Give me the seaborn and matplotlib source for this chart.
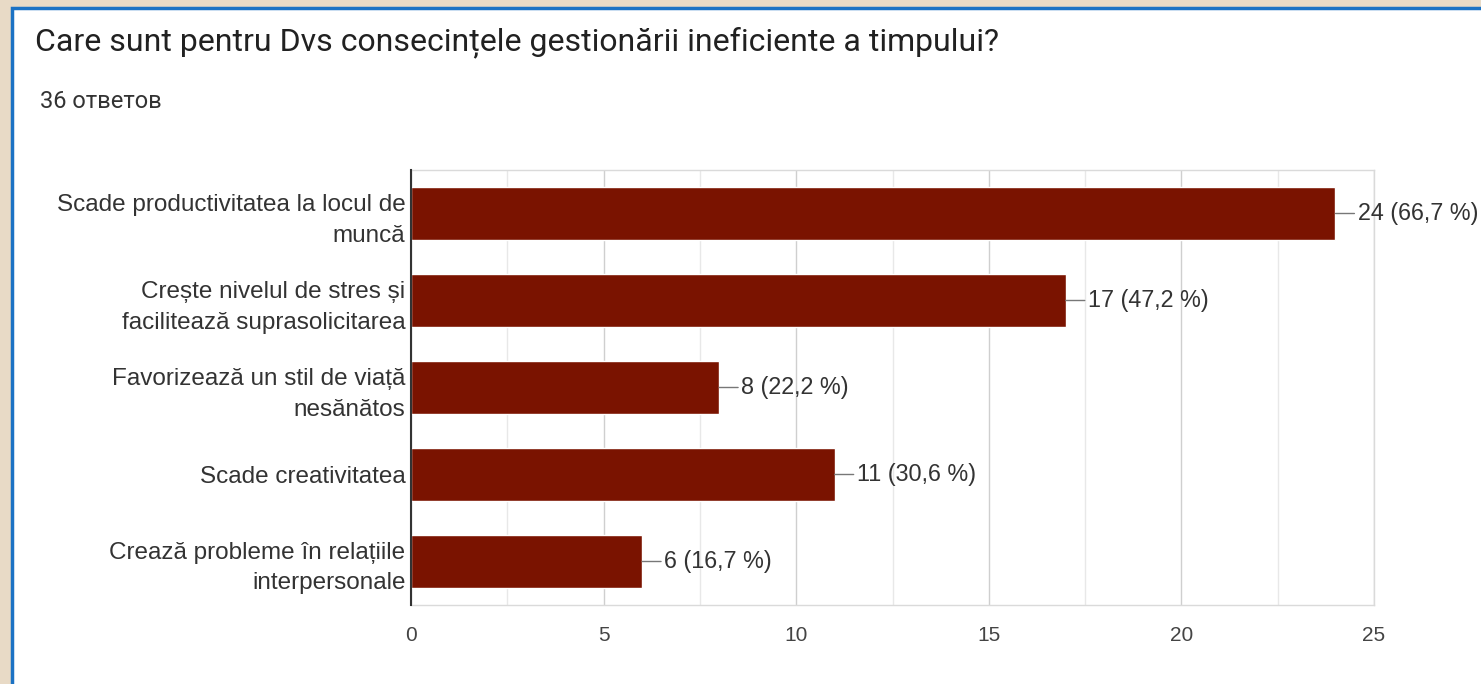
import matplotlib
matplotlib.use("Agg")
import matplotlib.pyplot as plt
import matplotlib.patches as mpatches
from matplotlib.ticker import MultipleLocator
import seaborn as sns
import pandas as pd

# Survey answers
categories = [
    "Scade productivitatea la locul de\nmuncă",
    "Crește nivelul de stres și\nfacilitează suprasolicitarea",
    "Favorizează un stil de viață\nnesănătos",
    "Scade creativitatea",
    "Crează probleme în relațiile\ninterpersonale",
]
counts = [24, 17, 8, 11, 6]
total_responses = 36
x_ticks = [0, 5, 10, 15, 20, 25]

title = "Care sunt pentru Dvs consecințele gestionării ineficiente a timpului?"
subtitle = f"{total_responses} ответов"

bar_color = "#7A1300"
label_font = ["Liberation Sans", "DejaVu Sans"]

sns.set_theme(style="white")
plt.rcParams["font.family"] = label_font

W, H = 1481, 684
fig = plt.figure(figsize=(W / 100, H / 100), dpi=100)
fig.patch.set_facecolor("#E8DAC6")

# White card with a blue edge on the left and top
card = mpatches.Rectangle((12 / W, -0.1), 1.2, 1.1 - 8 / H, transform=fig.transFigure,
                          facecolor="white", edgecolor="#1B72C4", linewidth=2.5,
                          zorder=-5)
fig.patches.append(card)

fig.text(35 / W, 1 - 42 / H, title, fontsize=23, family=["Roboto", "DejaVu Sans"],
         color="#212121", va="center", ha="left")
fig.text(40 / W, 1 - 101 / H, subtitle, fontsize=17, family=["Roboto", "DejaVu Sans"],
         color="#333333", va="center", ha="left")

ax = fig.add_axes([411 / W, 79 / H, (1374 - 411) / W, (605 - 170) / H])
ax.set_facecolor("white")
ax.set_zorder(2)

df = pd.DataFrame({"category": categories, "count": counts})
sns.barplot(data=df, x="count", y="category", orient="h", color=bar_color,
            saturation=1, width=0.62, ax=ax, zorder=3)

ax.set_xlim(0, 25)
ax.set_ylim(4.5, -0.5)
ax.set_xticks(x_ticks)
ax.xaxis.set_minor_locator(MultipleLocator(2.5))
ax.grid(axis="x", which="major", color="#CFCFCF", linewidth=1.0, zorder=0)
ax.grid(axis="x", which="minor", color="#E8E8E8", linewidth=1.0, zorder=0)
ax.set_axisbelow(True)
ax.set_xlabel("")
ax.set_ylabel("")

for side in ("top", "bottom", "right"):
    ax.spines[side].set_color("#DADADA")
    ax.spines[side].set_linewidth(1.0)
ax.spines["left"].set_color("#333333")
ax.spines["left"].set_linewidth(1.5)
ax.spines["left"].set_zorder(5)

ax.tick_params(axis="x", which="both", length=0, pad=15, labelsize=15,
               labelcolor="#444444")
ax.tick_params(axis="y", length=0, pad=4, labelsize=17.5, labelcolor="#333333")
for lbl in ax.get_yticklabels():
    lbl.set_horizontalalignment("right")
    lbl.set_linespacing(1.5)

# Value labels joined to the bar ends by a short grey leader
for i, v in enumerate(counts):
    pct = f"{100 * v / total_responses:.1f}".replace(".", ",")
    ax.annotate(f"{v} ({pct} %)", xy=(v, i), xytext=(16, 0),
                textcoords="offset points", va="center", ha="left",
                fontsize=16.8, color="#333333", annotation_clip=False,
                arrowprops=dict(arrowstyle="-", color="#777777", lw=1.0,
                                shrinkA=0, shrinkB=0))

fig.savefig("out.png", dpi=100, facecolor=fig.get_facecolor())
